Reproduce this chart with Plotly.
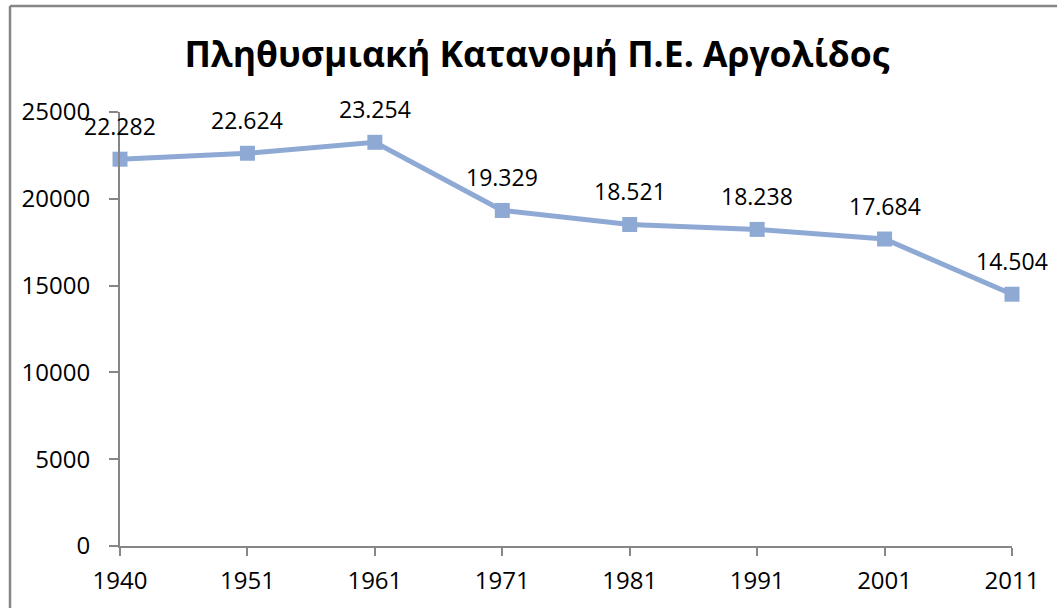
import plotly.graph_objects as go

years = ["1940", "1951", "1961", "1971", "1981", "1991", "2001", "2011"]
population = [22282, 22624, 23254, 19329, 18521, 18238, 17684, 14504]
y_ticks = [0, 5000, 10000, 15000, 20000, 25000]
title_text = "Πληθυσμιακή Κατανομή Π.Ε. Αργολίδος"

W, H = 1057, 608
L, R, T, B = 120, 45, 112, 62

labels = [f"{v:,}".replace(",", ".") for v in population]

line_color = "#8FA9D5"
axis_color = "#868686"
font_family = "Open Sans, Liberation Sans, sans-serif"

fig = go.Figure()
fig.add_trace(go.Scatter(
    x=years,
    y=population,
    mode="lines+markers",
    line=dict(color=line_color, width=5),
    marker=dict(symbol="square", size=15, color=line_color),
    cliponaxis=False,
    showlegend=False,
))

# value labels above each point (category index on the x axis)
for i, (val, lab) in enumerate(zip(population, labels)):
    fig.add_annotation(
        x=i, y=val, xref="x", yref="y", text=lab, showarrow=False,
        yshift=33, yanchor="middle", xanchor="center",
        font=dict(family=font_family, size=23, color="#000000"),
    )

fig.update_layout(
    width=W, height=H,
    margin=dict(l=L, r=R, t=T, b=B),
    paper_bgcolor="white",
    plot_bgcolor="white",
    title=dict(
        text=f"<b>{title_text}</b>",
        x=0.508, xanchor="center",
        y=1 - 55 / H, yanchor="middle",
        font=dict(family=font_family, size=35.5, color="#000000"),
    ),
    xaxis=dict(
        type="category",
        range=[0, len(years) - 1],
        showgrid=False,
        showline=True, linecolor=axis_color, linewidth=2,
        ticks="outside", ticklen=8, tickcolor=axis_color, tickwidth=2,
        ticklabelstandoff=4,
        tickfont=dict(family=font_family, size=24, color="#000000"),
        zeroline=False,
    ),
    yaxis=dict(
        range=[0, 25000],
        tickvals=y_ticks,
        tickformat="d",
        showgrid=False,
        showline=True, linecolor=axis_color, linewidth=2,
        ticks="outside", ticklen=9, tickcolor=axis_color, tickwidth=2,
        ticklabelstandoff=14,
        tickfont=dict(family=font_family, size=24, color="#000000"),
        zeroline=False,
    ),
)

# chart frame: left and top edges
fig.add_shape(type="line", xref="paper", yref="paper",
              x0=(10 - L) / (W - L - R), x1=(10 - L) / (W - L - R),
              y0=(H - B - 6) / (H - T - B), y1=-(B + 10) / (H - T - B),
              line=dict(color=axis_color, width=2.5))
fig.add_shape(type="line", xref="paper", yref="paper",
              x0=(10 - L) / (W - L - R), x1=(W + 10 - L) / (W - L - R),
              y0=(H - B - 6) / (H - T - B), y1=(H - B - 6) / (H - T - B),
              line=dict(color=axis_color, width=2.5))

fig.write_html("out.html")
